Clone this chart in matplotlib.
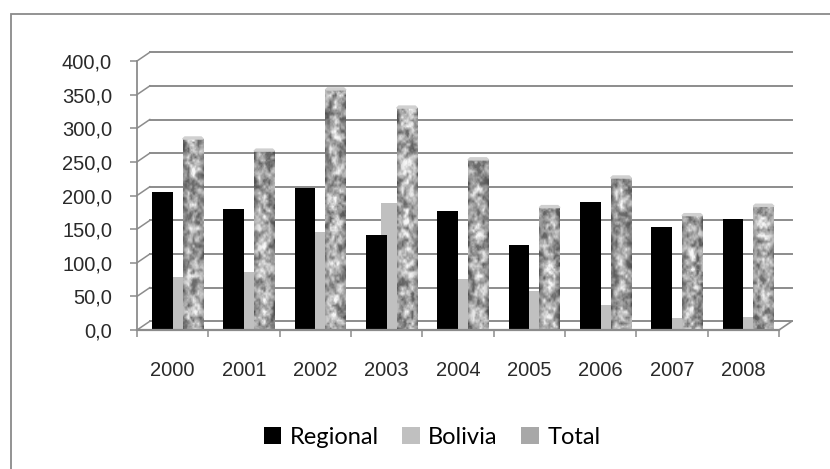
import numpy as np
import matplotlib
matplotlib.use("Agg")
import matplotlib.pyplot as plt
from matplotlib.patches import Patch, Rectangle, Polygon
from matplotlib.ticker import FuncFormatter

years = ["2000", "2001", "2002", "2003", "2004", "2005", "2006", "2007", "2008"]
regional = [205, 180, 211, 141, 177, 126, 190, 153, 165]
bolivia = [79, 86, 146, 189, 76, 58, 37, 18, 19]
total = [284, 266, 357, 330, 253, 182, 226, 170, 184]

GRID = "#8c8c8c"
DX, DY = 0.18, 13.0   # 3d depth offset of the back wall (data units)
W = 0.29              # bar front width


def hashgrid(nx, ny, seed):
    j, i = np.mgrid[0:ny, 0:nx].astype(float)
    h = np.sin(i * 12.9898 + j * 78.233 + seed * 37.719) * 43758.5453
    return h - np.floor(h)


def upsample(g, nx, ny):
    gy, gx = g.shape
    xs = np.linspace(0, gx - 1.001, nx)
    ys = np.linspace(0, gy - 1.001, ny)
    x0 = np.floor(xs).astype(int); fx = xs - x0
    y0 = np.floor(ys).astype(int); fy = ys - y0
    a = g[np.ix_(y0, x0)]; b = g[np.ix_(y0, x0 + 1)]
    c = g[np.ix_(y0 + 1, x0)]; d = g[np.ix_(y0 + 1, x0 + 1)]
    fx = fx[None, :]; fy = fy[:, None]
    return (a * (1 - fx) + b * fx) * (1 - fy) + (c * (1 - fx) + d * fx) * fy


def granite(nx, ny, seed):
    # grey stone look for the Total columns
    t = np.zeros((ny, nx))
    for k, (cell, amp) in enumerate([(6, 0.5), (3, 0.35), (1.5, 0.15)]):
        g = hashgrid(int(nx / cell) + 2, int(ny / cell) + 2, seed * 5 + k)
        t += amp * upsample(g, nx, ny)
    t = (t - t.min()) / (t.max() - t.min())
    t = np.clip((t - 0.5) * 1.5 + 0.5, 0, 1)
    u = (np.arange(nx) + 0.5) / nx
    prof = 0.74 + 0.26 * np.sin(np.pi * u)
    return (0.42 + 0.55 * t) * prof[None, :]


fig = plt.figure(figsize=(8.30, 4.69), dpi=100)
ax = fig.add_axes([137 / 830, 1 - 330 / 469, 642 / 830, 269 / 469])
for s in ax.spines.values():
    s.set_visible(False)

x = np.arange(len(years))

# back wall gridlines + side wall diagonals
for v in range(0, 401, 50):
    ax.plot([-0.5 + DX, 8.5 + DX], [v + DY, v + DY], color=GRID, lw=1.4,
            clip_on=False, zorder=1)
    ax.plot([-0.5, -0.5 + DX], [v, v + DY], color=GRID, lw=1.1,
            clip_on=False, zorder=1)
# floor
ax.plot([-0.5, 8.5], [0, 0], color=GRID, lw=1.6, clip_on=False, zorder=6)
ax.plot([8.5, 8.5 + DX], [0, DY], color=GRID, lw=1.2, clip_on=False, zorder=1)
# front vertical axis
ax.plot([-0.5, -0.5], [0, 400], color=GRID, lw=1.3, clip_on=False, zorder=6)

# bars: Bolivia sits behind Regional and Total
ax.bar(x + 0.07, bolivia, width=W, align="center", color="#c0c0c0",
       edgecolor="none", zorder=2)
ax.bar(x - 0.145, regional, width=W, align="center", color="#000000",
       edgecolor="none", zorder=3)
for i, v in enumerate(total):
    x0, x1 = i + 0.14, i + 0.43
    ny = max(int(v * 0.67), 4)
    img = granite(21, ny, i + 1)
    ax.imshow(img, extent=(x0, x1, 0, v), origin="lower", cmap="gray",
              vmin=0, vmax=1, aspect="auto", interpolation="bilinear",
              zorder=4)
    ax.add_patch(Polygon([(x0, v), (x1, v), (x1 - 0.03, v + 3), (x0 + 0.03, v + 3)],
                         closed=True, color="#d0d0d0", zorder=4, clip_on=False))

ax.set_xlim(-0.5, 8.5)
ax.set_ylim(0, 400)
ax.set_aspect("auto")

ax.set_yticks(range(0, 401, 50))
ax.yaxis.set_major_formatter(FuncFormatter(lambda v, p: f"{v:.1f}".replace(".", ",")))
ax.tick_params(axis="y", length=5, width=1.1, color=GRID, pad=13,
               labelsize=14.5, labelcolor="#2a2a2a")
ax.set_xticks(x)
ax.set_xticklabels(years)
ax.set_xticks(np.arange(-0.5, 9, 1), minor=True)
ax.tick_params(axis="x", which="major", length=0, pad=22, labelsize=14.5,
               labelcolor="#2a2a2a")
ax.tick_params(axis="x", which="minor", length=5, width=1.1, color=GRID)
for lab in ax.get_xticklabels() + ax.get_yticklabels():
    lab.set_fontfamily("Liberation Sans")

# chart border
fig.patches.append(Rectangle((11 / 830, -0.1), 1.2, 1 - 14 / 469 + 0.1,
                             transform=fig.transFigure, fill=False,
                             edgecolor="#8a8a8a", lw=1.3))

handles = [Patch(facecolor="#000000", label="Regional"),
           Patch(facecolor="#c0c0c0", label="Bolivia"),
           Patch(facecolor="#a8a8a8", label="Total")]
fig.legend(handles=handles, loc="center", bbox_to_anchor=(432 / 830, 1 - 437 / 469),
           ncol=3, frameon=False, handlelength=0.75, handleheight=0.75,
           handletextpad=0.35, columnspacing=1.0,
           prop={"family": "Lato", "size": 17})

fig.savefig("out.png", dpi=100)
